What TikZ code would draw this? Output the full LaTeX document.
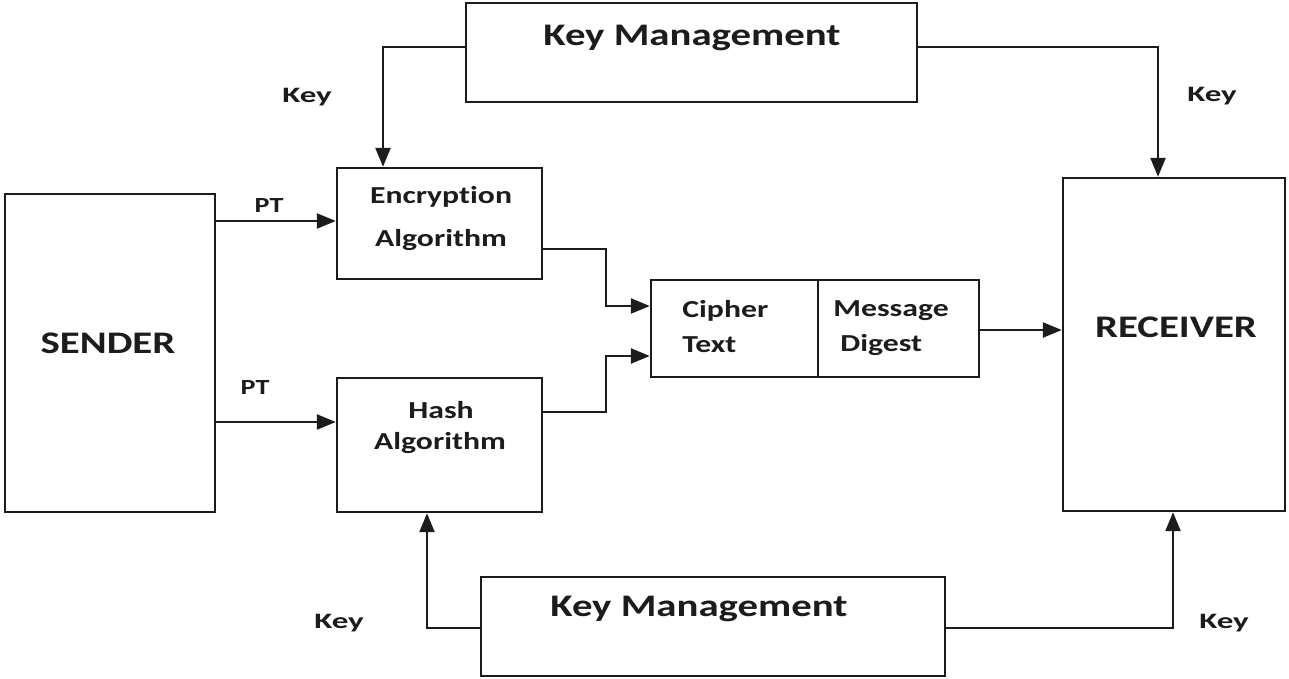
\documentclass[tikz,border=0pt]{standalone}
\usepackage{fontspec}
\setmainfont{Carlito}[FakeStretch=1.3, Ligatures=NoCommon]
\newfontfamily\widefont{Carlito}[FakeStretch=1.5, Ligatures=NoCommon]
\usetikzlibrary{arrows.meta,fit}
\definecolor{ink}{HTML}{1C1C1C}
\begin{document}
\begin{tikzpicture}[x=0.5pt,y=-0.5pt,
  box/.style={draw=ink, line width=1.2pt, inner sep=0pt, rectangle},
  conn/.style={draw=ink, line width=1.2pt, -{Triangle[length=9.5pt,width=7.5pt]}},
  big/.style={text=ink, inner sep=0pt, font=\bfseries\fontsize{15.7}{18}\selectfont},
  mid/.style={text=ink, inner sep=0pt, font=\bfseries\fontsize{12.2}{14}\selectfont},
  small/.style={text=ink, inner sep=0pt, font=\bfseries\fontsize{10.8}{13}\selectfont},
  keylbl/.style={text=ink, inner sep=0pt, font=\widefont\bfseries\fontsize{11}{13}\selectfont}]
\useasboundingbox (0,0) rectangle (1289,679);

% boxes
\node[box, fit={(5,194) (215,512)}] (sender) {};
\node[box, fit={(337,168) (542,279)}] (enc) {};
\node[box, fit={(337,378) (542,512)}] (hash) {};
\node[box, fit={(651,280) (818,377)}] (cipher) {};
\node[box, fit={(818,280) (979,377)}] (digest) {};
\node[box, fit={(1063,178) (1285,511)}] (recv) {};
\node[box, fit={(466,3) (917,102)}] (kmtop) {};
\node[box, fit={(481,577) (945,676)}] (kmbot) {};

% box texts
\node[big] (tsender) at (108,343) {SENDER};
\node[big] (trecv) at (1176,327) {RECEIVER};
\node[big] (tkmtop) at (692,38) {Key Management};
\node[big] (tkmbot) at (699,609) {Key Management};
\node[mid] (tenc1) at (441,197) {Encryption};
\node[mid] (tenc2) at (441,240) {Algorithm};
\node[mid] (thash1) at (441,410) {Hash};
\node[mid] (thash2) at (440,443) {Algorithm};
\node[mid, anchor=west] (tcip1) at (682,311) {Cipher};
\node[mid, anchor=west] (tcip2) at (682,345) {Text};
\node[mid, anchor=west] (tmd1) at (833,311) {Message};
\node[mid, anchor=west] (tmd2) at (840,345) {Digest};

% connector labels
\node[small] (pt1) at (269,205) {PT};
\node[small] (pt2) at (255,387) {PT};
\node[keylbl] (k1) at (307,97) {Key};
\node[keylbl] (k2) at (1212,96) {Key};
\node[keylbl] (k3) at (339,623) {Key};
\node[keylbl] (k4) at (1224,623) {Key};

% connectors
\draw[conn] (kmtop.west |- 0,47) -| (enc.north -| 383,0);
\draw[conn] (kmtop.east |- 0,47) -| (recv.north -| 1158,0);
\draw[conn] (sender.east |- 0,221) -- (enc.west |- 0,221);
\draw[conn] (sender.east |- 0,422) -- (hash.west |- 0,422);
\draw[conn] (enc.east |- 0,249) -| (606,306) -- (cipher.west |- 0,306);
\draw[conn] (hash.east |- 0,412) -| (606,356) -- (cipher.west |- 0,356);
\draw[conn] (digest.east |- 0,330) -- (recv.west |- 0,330);
\draw[conn] (kmbot.west |- 0,628) -| (hash.south -| 427,0);
\draw[conn] (kmbot.east |- 0,628) -| (recv.south -| 1173,0);
\end{tikzpicture}
\end{document}
